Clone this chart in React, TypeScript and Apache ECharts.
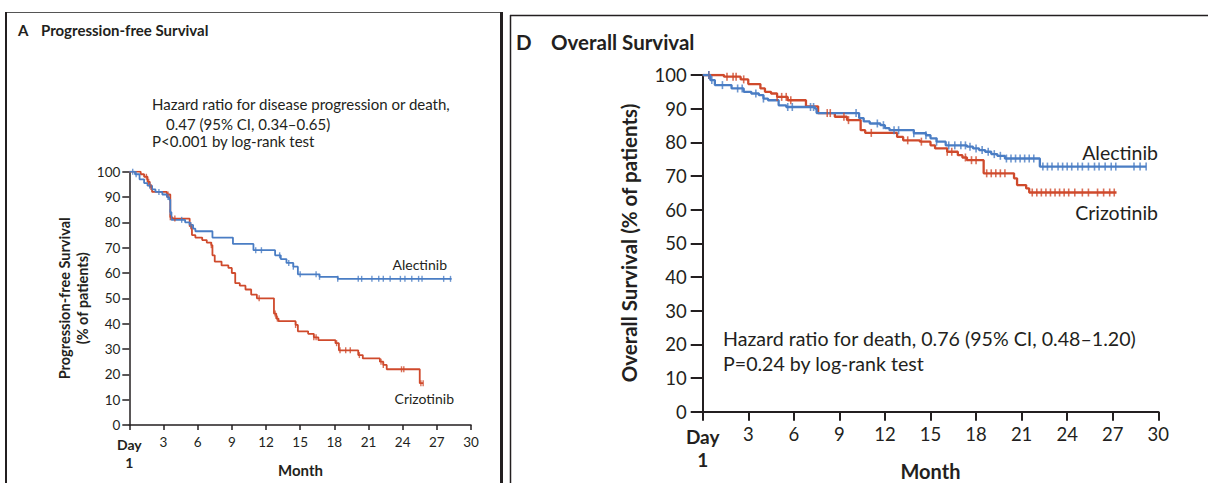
import React, { useEffect, useRef } from "react";
import * as echarts from "echarts";

// ---------- Data (months, % of patients) ----------
const monthTicks = [0, 3, 6, 9, 12, 15, 18, 21, 24, 27, 30];

// Panel A: Progression-free survival
const pfsAlecT = [0, 0.5, 0.9, 1.3, 1.6, 2.0, 2.3, 2.9, 3.3, 3.5, 3.6, 3.7, 4.9, 5.3, 5.6, 5.8, 7.3, 9.1, 10.9, 12.8, 13.3, 13.8, 14.4, 14.8, 16.7, 18.3, 28.3];
const pfsAlecS = [100, 99, 97, 95.5, 94.5, 93, 92, 91, 90, 89, 84, 81, 80, 79, 77.5, 76.5, 74, 71.5, 69, 67, 65.5, 64, 62.5, 59.5, 58.5, 57.7, 57.7];
const pfsAlecCens = [0.3, 0.6, 1.8, 2.6, 3.4, 3.6, 4.6, 5.4, 11.1, 11.6, 13.2, 14.0, 14.4, 15.0, 16.4, 16.7, 18.3, 20.1, 20.4, 21.3, 21.9, 22.3, 22.9, 23.8, 24.2, 24.8, 25.4, 25.7, 27.6, 28.2];

const pfsCrizT = [0, 1.0, 1.3, 1.6, 1.8, 2.0, 3.3, 3.6, 3.8, 5.3, 5.5, 5.8, 6.4, 6.8, 7.2, 7.3, 7.5, 8.1, 8.7, 9.0, 9.3, 9.7, 10.2, 10.7, 11.2, 12.7, 12.9, 13.1, 14.6, 14.8, 15.7, 16.2, 16.6, 18.1, 18.4, 20.1, 20.5, 22.0, 22.3, 22.6, 25.5, 25.8];
const pfsCrizS = [100, 99, 98, 96, 94, 92, 91, 82, 81.5, 78.5, 75, 74, 73, 72, 71, 67, 64.5, 63, 62, 60, 56, 55, 53.5, 51.5, 50, 44, 42, 41, 39.5, 37, 36, 34.6, 33.5, 32.3, 29.5, 27.6, 26.3, 25, 23.7, 22, 16.5, 16.5];
const pfsCrizCens = [1.5, 1.7, 1.9, 3.4, 3.6, 4.0, 5.4, 7.2, 11.4, 12.8, 13.0, 14.6, 16.2, 16.4, 18.2, 18.5, 19.0, 19.4, 20.2, 22.1, 22.3, 23.9, 24.1, 25.6, 25.8];

// Panel D: Overall survival
const osAlecT = [0, 0.5, 0.8, 1.9, 2.7, 3.2, 3.7, 4.0, 4.3, 5.0, 5.5, 7.4, 7.5, 10.3, 10.6, 11.0, 11.7, 12.0, 12.3, 13.9, 14.7, 15.0, 15.4, 16.0, 17.4, 17.8, 18.2, 18.6, 19.0, 19.4, 19.9, 22.2, 29.2];
const osAlecS = [100, 98.5, 97, 96, 95, 94.5, 94, 93, 92.5, 91, 90.5, 90, 88.7, 87.2, 86.2, 85.6, 85.1, 84.2, 83.6, 82.7, 82.1, 81.2, 80.2, 79.1, 78.7, 78.2, 77.7, 77.2, 76.5, 76, 75.2, 72.8, 72.8];
const osAlecCens = [0.4, 0.6, 1.3, 2.3, 2.6, 3.5, 4.0, 5.6, 5.9, 7.1, 7.3, 10.1, 11.5, 11.9, 12.6, 12.9, 13.9, 14.7, 15.4, 16.2, 16.6, 17.0, 17.3, 17.6, 18.0, 18.4, 18.8, 19.2, 19.6, 20.0, 20.3, 20.6, 20.9, 21.2, 21.5, 21.8, 22.4, 22.7, 23.0, 23.4, 23.7, 24.0, 24.3, 24.7, 25.0, 25.4, 25.8, 26.1, 26.5, 26.9, 27.2, 28.4, 28.8, 29.2];

const osCrizT = [0, 1.4, 2.5, 3.0, 3.8, 4.1, 4.5, 4.9, 5.6, 6.8, 7.6, 8.7, 9.5, 10.4, 10.7, 12.8, 13.2, 14.3, 15.0, 15.3, 16.1, 16.8, 17.1, 17.4, 18.5, 20.5, 20.7, 21.3, 21.5, 27.25];
const osCrizS = [100, 99.5, 98.7, 97.3, 96, 95, 94.5, 93.5, 92.5, 90.7, 88.7, 87.6, 86.6, 83.6, 82.8, 81.6, 80.6, 80.2, 79.1, 78.2, 77.2, 76.2, 75.5, 74.7, 70.8, 69.3, 67.3, 66.3, 65.1, 65.1];
const osCrizCens = [0.4, 1.6, 2.0, 2.2, 2.7, 4.9, 5.2, 5.5, 5.8, 8.2, 8.4, 9.3, 9.6, 11.1, 13.5, 14.4, 16.1, 16.4, 17.3, 17.7, 18.0, 18.7, 19.0, 19.3, 19.6, 19.9, 21.7, 22.0, 22.3, 22.6, 22.9, 23.2, 23.5, 23.8, 24.1, 24.5, 25.0, 25.4, 26.0, 26.4, 26.8, 27.1];

// ---------- Styling ----------
const FONT = 'Lato, "Noto Sans", sans-serif';
const INK = "#231f20";
const BLUE = "#4a7dc4";
const RED = "#cf4a2c";

const zip = (t: number[], s: number[]) => t.map((v, i) => [v, s[i]]);
const stepVal = (t: number[], s: number[], x: number) => {
  let v = s[0];
  for (let i = 0; i < t.length; i++) if (t[i] <= x) v = s[i];
  return v;
};

function makeAxes(grid: number, fs: number, tickX: number, tickY: number, marginX: number, marginY: number, lw: number, lh: number) {
  const axisLine = { show: true, onZero: false, lineStyle: { color: INK, width: lw } };
  const x = {
    type: "value", gridIndex: grid, min: 0, max: 30, interval: 3,
    axisLine,
    axisTick: { show: true, inside: false, length: tickX, lineStyle: { color: INK, width: lw } },
    splitLine: { show: false },
    axisLabel: {
      margin: marginX, fontSize: fs, fontFamily: FONT, color: INK,
      customValues: monthTicks,
      formatter: (v: number) => (v === 0 ? "{d|Day}\n{d|1}" : String(v)),
      rich: { d: { fontSize: fs + 0.5, fontFamily: FONT, fontWeight: "bold", color: INK, lineHeight: lh } },
    },
  };
  const y = {
    type: "value", gridIndex: grid, min: 0, max: 100, interval: 10,
    axisLine,
    axisTick: { show: true, inside: false, length: tickY, lineStyle: { color: INK, width: lw } },
    splitLine: { show: false },
    axisLabel: { margin: marginY, fontSize: fs, fontFamily: FONT, color: INK },
  };
  return { x, y };
}

function curve(grid: number, t: number[], s: number[], color: string, w: number) {
  return {
    type: "line", xAxisIndex: grid, yAxisIndex: grid, data: zip(t, s), step: "end",
    showSymbol: false, symbol: "none", lineStyle: { color, width: w }, itemStyle: { color }, z: 3, silent: true,
  };
}
function censor(grid: number, t: number[], s: number[], c: number[], color: string, size: number[]) {
  return {
    type: "scatter", xAxisIndex: grid, yAxisIndex: grid,
    data: c.map((x) => [x, stepVal(t, s, x)]),
    symbol: "rect", symbolSize: size, itemStyle: { color }, z: 4, silent: true,
  };
}

function text(x: number, y: number, str: string, size: number, o: any = {}) {
  const align = o.align || "left";
  const va = o.va || "middle";
  return {
    type: "text", x, y, rotation: o.rotation || 0, scaleX: o.scaleX || 1, silent: true, z: 10,
    style: {
      text: str, fontSize: size, fontFamily: FONT, fontWeight: o.bold ? "bold" : "normal", fill: INK,
      align, verticalAlign: va, textAlign: align, textVerticalAlign: va, lineHeight: o.lh,
    },
  };
}

export default function App() {
  const ref = useRef<HTMLDivElement>(null);
  useEffect(() => {
    if (!ref.current) return;
    const chart = echarts.init(ref.current, undefined, { renderer: "svg" });
    const A = makeAxes(0, 13.5, 5, 7, 10, 9, 1.5, 18);
    const D = makeAxes(1, 18.5, 9, 12, 13, 16, 2, 23);
    chart.setOption({
      animation: false,
      backgroundColor: "#ffffff",
      grid: [
        { left: 129.3, top: 171.7, width: 341.7, height: 253.3 },
        { left: 702.7, top: 75, width: 455.6, height: 336.7 },
      ],
      xAxis: [A.x, D.x],
      yAxis: [A.y, D.y],
      series: [
        curve(0, pfsCrizT, pfsCrizS, RED, 1.8),
        curve(0, pfsAlecT, pfsAlecS, BLUE, 1.8),
        censor(0, pfsCrizT, pfsCrizS, pfsCrizCens, RED, [1.4, 6]),
        censor(0, pfsAlecT, pfsAlecS, pfsAlecCens, BLUE, [1.4, 6]),
        curve(1, osCrizT, osCrizS, RED, 2.3),
        curve(1, osAlecT, osAlecS, BLUE, 2.3),
        censor(1, osCrizT, osCrizS, osCrizCens, RED, [1.6, 8]),
        censor(1, osAlecT, osAlecS, osAlecCens, BLUE, [1.6, 8]),
      ],
      graphic: [
        // panel frames
        { type: "line", silent: true, shape: { x1: 5.5, y1: 12.5, x2: 501, y2: 12.5 }, style: { stroke: "#555", lineWidth: 1 } },
        { type: "line", silent: true, shape: { x1: 6, y1: 12, x2: 6, y2: 483 }, style: { stroke: INK, lineWidth: 2 } },
        { type: "line", silent: true, shape: { x1: 501.5, y1: 12, x2: 501.5, y2: 483 }, style: { stroke: INK, lineWidth: 3 } },
        { type: "line", silent: true, shape: { x1: 510, y1: 15.5, x2: 1208, y2: 15.5 }, style: { stroke: INK, lineWidth: 1.5 } },
        { type: "line", silent: true, shape: { x1: 510.5, y1: 15, x2: 1208, y2: 15 }, style: { stroke: INK, lineWidth: 0 } },
        { type: "line", silent: true, shape: { x1: 510.5, y1: 15, x2: 510.5, y2: 483 }, style: { stroke: INK, lineWidth: 1.5 } },
        // Panel A texts
        text(18, 30, "A", 15, { bold: true }),
        text(41, 30, "Progression-free Survival", 15, { bold: true }),
        text(152, 104, "Hazard ratio for disease progression or death,", 15),
        text(166, 124, "0.47 (95% CI, 0.34–0.65)", 15),
        text(152, 141, "P<0.001 by log-rank test", 15),
        text(447, 264, "Alectinib", 14, { align: "right" }),
        text(454, 398, "Crizotinib", 14, { align: "right" }),
        text(300.5, 470, "Month", 15, { bold: true, align: "center" }),
        text(73.5, 298.3, "Progression-free Survival\n(% of patients)", 14.5, { bold: true, align: "center", rotation: Math.PI / 2, lh: 17.5 }),
        // Panel D texts
        text(516, 42, "D", 20.5, { bold: true }),
        text(551, 42, "Overall Survival", 20.5, { bold: true }),
        text(723, 338, "Hazard ratio for death, 0.76 (95% CI, 0.48–1.20)", 19.6),
        text(723, 363, "P=0.24 by log-rank test", 19.6),
        text(1158, 152, "Alectinib", 19.5, { align: "right" }),
        text(1158, 212, "Crizotinib", 19.5, { align: "right" }),
        text(930.5, 471, "Month", 20, { bold: true, align: "center" }),
        text(629, 243, "Overall Survival (% of patients)", 20.5, { bold: true, align: "center", rotation: Math.PI / 2 }),
      ],
    });
    return () => chart.dispose();
  }, []);
  return (
    <div
      ref={ref}
      style={{ position: "absolute", left: 0, top: 0, width: 1208, height: 483, background: "#fff" }}
    />
  );
}
